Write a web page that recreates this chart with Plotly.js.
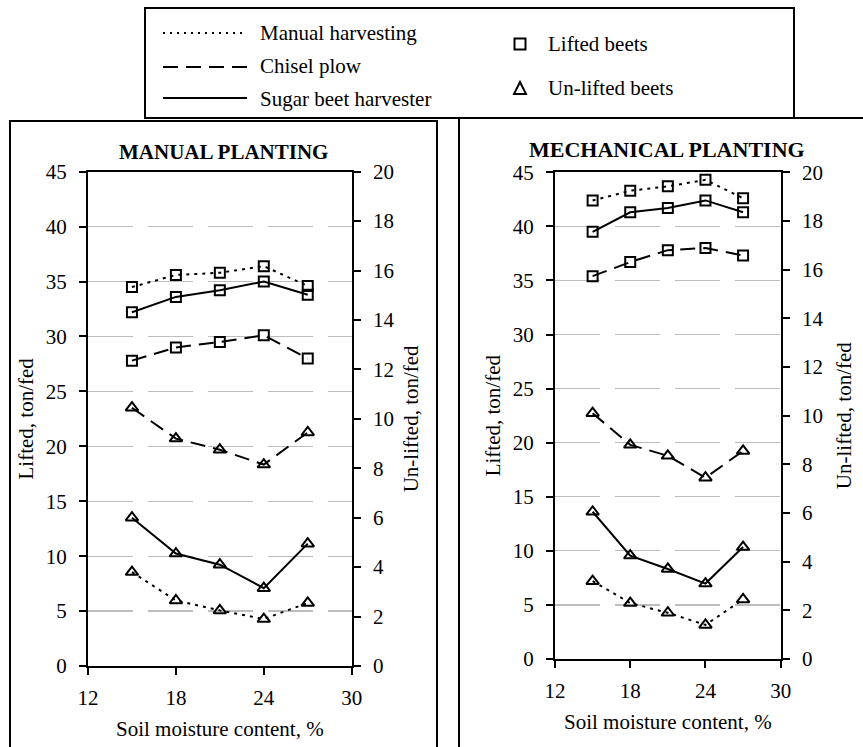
<!DOCTYPE html>
<html>
<head>
<meta charset="utf-8">
<script src="https://cdn.plot.ly/plotly-3.0.1.min.js"></script>
<style>html,body{margin:0;padding:0;background:#fff}#chart{width:863px;height:747px}</style>
</head>
<body>
<div id="chart"></div>
<script>
// ---- Data ----
const moisture = [15, 18, 21, 24, 27];
const xTicks = [12, 18, 24, 30];

// Manual planting - lifted beets (ton/fed)
const manualLiftedManualHarv = [34.5, 35.6, 35.8, 36.4, 34.6];
const manualLiftedChisel = [27.8, 29.0, 29.5, 30.1, 28.0];
const manualLiftedHarvester = [32.2, 33.6, 34.2, 35.0, 33.8];
// Manual planting - un-lifted beets (ton/fed)
const manualUnliftedManualHarv = [3.8, 2.65, 2.25, 1.9, 2.55];
const manualUnliftedChisel = [10.45, 9.2, 8.75, 8.15, 9.45];
const manualUnliftedHarvester = [6.0, 4.55, 4.1, 3.15, 4.95];

// Mechanical planting - lifted beets
const mechLiftedManualHarv = [42.4, 43.3, 43.7, 44.3, 42.6];
const mechLiftedChisel = [35.4, 36.7, 37.8, 38.0, 37.3];
const mechLiftedHarvester = [39.5, 41.3, 41.7, 42.4, 41.3];
// Mechanical planting - un-lifted beets
const mechUnliftedManualHarv = [3.2, 2.3, 1.9, 1.4, 2.45];
const mechUnliftedChisel = [10.1, 8.8, 8.35, 7.45, 8.55];
const mechUnliftedHarvester = [6.05, 4.25, 3.7, 3.1, 4.6];

const methodNames = ['Manual harvesting', 'Chisel plow', 'Sugar beet harvester'];
const beetNames = ['Lifted beets', 'Un-lifted beets'];
const panelTitles = ['MANUAL PLANTING', 'MECHANICAL PLANTING'];
const xTitle = 'Soil moisture content, %';
const yLeftTitle = 'Lifted, ton/fed';
const yRightTitle = 'Un-lifted, ton/fed';

// ---- Styling ----
const W = 863, H = 747;
const px = v => v / W;
const py = v => 1 - v / H;
const FONT = 'Liberation Serif';
const FS = 21;
const dashes = ['3px,5px', '15px,8px', 'solid'];

function mk(x, y, xa, ya, dash, symbol, name) {
  return {
    type: 'scatter', mode: 'lines+markers', x: x, y: y, xaxis: xa, yaxis: ya,
    name: name, showlegend: false, hoverinfo: 'x+y',
    line: {color: '#000', width: 2, dash: dash},
    marker: {symbol: symbol, size: symbol === 'square-open' ? 10 : 11,
             color: '#000', line: {color: '#000', width: 2}}
  };
}

const traces = [
  mk(moisture, manualLiftedManualHarv, 'x', 'y', dashes[0], 'square-open', methodNames[0]),
  mk(moisture, manualLiftedChisel, 'x', 'y', dashes[1], 'square-open', methodNames[1]),
  mk(moisture, manualLiftedHarvester, 'x', 'y', dashes[2], 'square-open', methodNames[2]),
  mk(moisture, manualUnliftedManualHarv, 'x', 'y2', dashes[0], 'triangle-up-open', methodNames[0]),
  mk(moisture, manualUnliftedChisel, 'x', 'y2', dashes[1], 'triangle-up-open', methodNames[1]),
  mk(moisture, manualUnliftedHarvester, 'x', 'y2', dashes[2], 'triangle-up-open', methodNames[2]),
  mk(moisture, mechLiftedManualHarv, 'x2', 'y3', dashes[0], 'square-open', methodNames[0]),
  mk(moisture, mechLiftedChisel, 'x2', 'y3', dashes[1], 'square-open', methodNames[1]),
  mk(moisture, mechLiftedHarvester, 'x2', 'y3', dashes[2], 'square-open', methodNames[2]),
  mk(moisture, mechUnliftedManualHarv, 'x2', 'y4', dashes[0], 'triangle-up-open', methodNames[0]),
  mk(moisture, mechUnliftedChisel, 'x2', 'y4', dashes[1], 'triangle-up-open', methodNames[1]),
  mk(moisture, mechUnliftedHarvester, 'x2', 'y4', dashes[2], 'triangle-up-open', methodNames[2])
];

const axBase = {
  showline: true, linecolor: '#000', linewidth: 2,
  ticks: 'outside', ticklen: 7, tickwidth: 2, tickcolor: '#000',
  tickfont: {family: FONT, size: FS, color: '#000'},
  zeroline: false, fixedrange: true
};
function xAx(domain, anchor) {
  return Object.assign({}, axBase, {
    domain: domain, anchor: anchor, range: [12, 30], tickvals: xTicks,
    showgrid: false, mirror: true, ticklabelstandoff: 5,
    title: {text: xTitle, font: {family: FONT, size: FS, color: '#000'}, standoff: 12}
  });
}
function yLeft(domain, anchor) {
  return Object.assign({}, axBase, {
    domain: domain, anchor: anchor, range: [0, 45], dtick: 5, tick0: 0,
    showgrid: true, gridcolor: '#bdbdbd', gridwidth: 1.3, griddash: '45px,15px',
    ticklabelstandoff: 8,
    title: {text: yLeftTitle, font: {family: FONT, size: FS, color: '#000'}, standoff: 6}
  });
}
function yRight(overlay, anchor, standoff) {
  return Object.assign({}, axBase, {
    overlaying: overlay, anchor: anchor, side: 'right', range: [0, 20], dtick: 2, tick0: 0,
    showgrid: false, ticklabelstandoff: 8,
    title: {text: yRightTitle, font: {family: FONT, size: FS, color: '#000'}, standoff: standoff}
  });
}

const yDom1 = [py(666), py(171.7)];
const yDom2 = [py(659), py(172.3)];

const lineSample = (y, dash) => ({type: 'line', xref: 'paper', yref: 'paper',
  x0: px(163), x1: px(247), y0: py(y), y1: py(y),
  line: {color: '#000', width: 2, dash: dash}});

const shapes = [
  // legend box
  {type: 'rect', xref: 'paper', yref: 'paper', x0: px(145), x1: px(794), y0: py(118), y1: py(8),
   line: {color: '#000', width: 2}},
  // panel frames
  {type: 'rect', xref: 'paper', yref: 'paper', x0: px(10), x1: px(437), y0: py(760), y1: py(121),
   line: {color: '#000', width: 2}},
  {type: 'rect', xref: 'paper', yref: 'paper', x0: px(459), x1: px(880), y0: py(760), y1: py(118),
   line: {color: '#000', width: 2}},
  lineSample(33, '2px,5px'),
  lineSample(67, '15px,8px'),
  lineSample(98, 'solid'),
  // legend marker samples
  {type: 'rect', xref: 'paper', yref: 'paper', x0: px(514.5), x1: px(525.5), y0: py(49.5), y1: py(38.5),
   line: {color: '#000', width: 2}},
  {type: 'path', xref: 'paper', yref: 'paper',
   path: 'M ' + px(514) + ' ' + py(94) + ' L ' + px(526) + ' ' + py(94) + ' L ' + px(520) + ' ' + py(82) + ' Z',
   line: {color: '#000', width: 2}}
];

const annText = (x, y, text, opts) => Object.assign({
  xref: 'paper', yref: 'paper', x: px(x), y: py(y), text: text, showarrow: false,
  xanchor: 'left', yanchor: 'middle', font: {family: FONT, size: FS, color: '#000'}
}, opts || {});

const annotations = [
  annText(258, 33, methodNames[0]),
  annText(258, 66, methodNames[1]),
  annText(258, 99, methodNames[2]),
  annText(546, 44, beetNames[0]),
  annText(546, 88, beetNames[1]),
  annText(224, 152, '<b>' + panelTitles[0] + '</b>', {xanchor: 'center', font: {family: FONT, size: 21, color: '#000'}}),
  annText(667, 149, '<b>' + panelTitles[1] + '</b>', {xanchor: 'center', font: {family: FONT, size: 22, color: '#000'}})
];

const layout = {
  width: W, height: H, margin: {l: 0, r: 0, t: 0, b: 0, pad: 0},
  paper_bgcolor: '#fff', plot_bgcolor: '#fff',
  showlegend: false,
  font: {family: FONT, size: FS, color: '#000'},
  xaxis: xAx([px(88), px(351.7)], 'y'),
  yaxis: yLeft(yDom1, 'x'),
  yaxis2: yRight('y', 'x', 10),
  xaxis2: xAx([px(555), px(780.7)], 'y3'),
  yaxis3: yLeft(yDom2, 'x2'),
  yaxis4: yRight('y3', 'x2', 14),
  shapes: shapes,
  annotations: annotations
};
layout.yaxis2.domain = yDom1;
layout.yaxis4.domain = yDom2;

Plotly.newPlot('chart', traces, layout, {displayModeBar: false, staticPlot: true});
</script>
</body>
</html>
